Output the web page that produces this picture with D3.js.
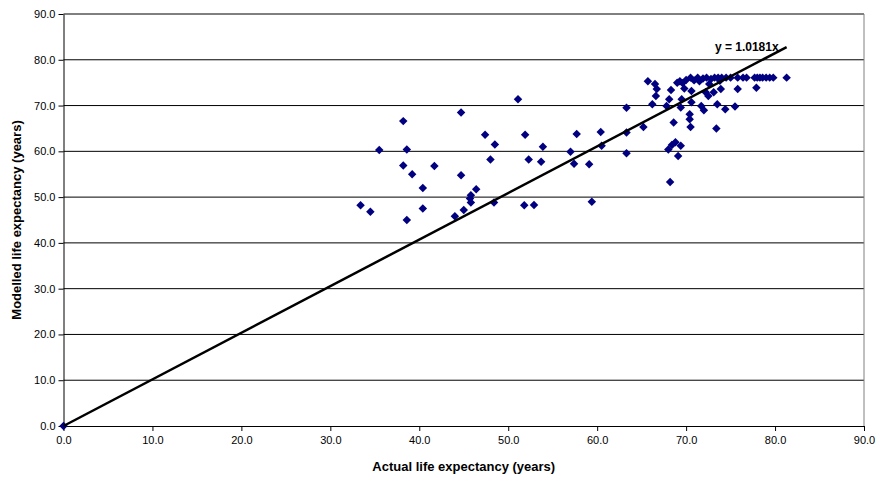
<!DOCTYPE html>
<html lang="en">
<head>
<meta charset="utf-8">
<title>Life expectancy scatter</title>
<script src="https://d3js.org/d3.v7.min.js"></script>
<style>
  body { margin: 0; background: white; font-family: 'Liberation Sans', Arial, sans-serif; }
</style>
</head>
<body>
<div class="chart"></div>
<script>
// actual vs modelled life expectancy (years)
const actual = [0, 33.4, 34.5, 35.5, 38.2, 38.6, 38.2, 39.2, 41.7, 40.4, 40.4, 38.6, 44.7, 44.7, 47.4, 48.5,
  48.0, 46.4, 45.8, 45.7, 45.8, 45.0, 44.0, 48.4, 51.1, 51.9, 52.3, 53.9, 53.7, 51.8, 52.9, 57.0, 57.7, 57.4,
  59.1, 59.4, 60.4, 60.5, 63.3, 63.3, 63.3, 65.2, 65.7, 66.5, 66.7, 66.6, 66.2, 68.3, 68.1, 67.8, 68.6, 68.2,
  68.0, 68.4, 68.8, 69.4, 69.1, 69.0, 69.3, 69.6, 69.8, 70.5, 69.5, 69.4, 70.6, 70.6, 70.4, 70.4, 70.5, 71.3,
  71.5, 72.3, 71.7, 72.0, 72.2, 72.5, 72.6, 73.2, 73.6, 73.8, 73.1, 73.9, 73.5, 73.4, 74.4, 75.5, 75.8, 75.0,
  75.8, 76.4, 76.8, 77.7, 77.9, 78.3, 78.6, 79.0, 79.8, 81.3, 70.0, 70.9, 71.9, 72.8, 74.0, 74.5, 78.0, 79.4];
const modelled = [0, 48.2, 46.8, 60.3, 66.6, 60.4, 56.9, 55.0, 56.8, 52.0, 47.5, 45.0, 68.5, 54.8, 63.6, 61.5,
  58.2, 51.7, 50.4, 49.7, 48.8, 47.2, 45.8, 48.8, 71.4, 63.6, 58.2, 61.0, 57.7, 48.2, 48.3, 59.9, 63.8, 57.3,
  57.2, 49.0, 64.2, 61.2, 69.5, 64.1, 59.6, 65.3, 75.3, 74.7, 73.6, 72.1, 70.3, 73.4, 71.4, 69.9, 66.3, 53.3,
  60.4, 61.4, 62.0, 61.2, 59.0, 75.0, 75.3, 74.9, 73.7, 76.1, 71.4, 69.6, 73.2, 70.7, 68.1, 67.0, 65.3, 76.1,
  75.3, 76.1, 69.9, 69.0, 72.9, 72.1, 74.7, 76.1, 76.1, 75.4, 72.9, 73.6, 70.3, 65.0, 69.2, 69.8, 73.6, 76.1,
  76.1, 76.1, 76.1, 76.1, 73.9, 76.1, 76.1, 76.1, 76.1, 76.1, 75.6, 75.5, 75.9, 75.8, 76.1, 76.1, 76.1, 76.1];
const slope = 1.0181;
const ticks = [0, 10, 20, 30, 40, 50, 60, 70, 80, 90];

const width = 876, height = 477;
const plotLeft = 63.5, plotRight = 864, plotTop = 14, plotBottom = 426;

const x = d3.scaleLinear().domain([0, 90]).range([plotLeft, plotRight]);
const y = d3.scaleLinear().domain([0, 90]).range([plotBottom, plotTop]);

const svg = d3.select(".chart").append("svg")
  .attr("width", width).attr("height", height);

// horizontal gridlines
svg.append("g").selectAll("line")
  .data(ticks.filter(t => t > 0))
  .enter().append("line")
  .attr("x1", plotLeft).attr("x2", plotRight)
  .attr("y1", d => y(d)).attr("y2", d => y(d))
  .attr("stroke", "#000").attr("stroke-width", 1);

// right border
svg.append("line")
  .attr("x1", plotRight).attr("x2", plotRight).attr("y1", plotTop).attr("y2", plotBottom)
  .attr("stroke", "#808080");

const fmt = d3.format(".1f");

const xAxis = svg.append("g")
  .attr("transform", `translate(0,${plotBottom})`)
  .call(d3.axisBottom(x).tickValues(ticks).tickFormat(fmt).tickSize(5).tickSizeOuter(0));
const yAxis = svg.append("g")
  .attr("transform", `translate(${plotLeft},0)`)
  .call(d3.axisLeft(y).tickValues(ticks).tickFormat(fmt).tickSize(5).tickSizeOuter(0));

[xAxis, yAxis].forEach(g => {
  g.selectAll("path, line").attr("stroke", "#000");
  g.selectAll("text").attr("fill", "#000")
    .style("font-family", "'Liberation Sans', Arial, sans-serif").style("font-size", "11px");
});
xAxis.selectAll("text").attr("dy", "0.71em").attr("y", 10);
yAxis.selectAll("text").attr("x", -8);

// points
const pts = actual.map((a, i) => ({ a, m: modelled[i] }));
svg.append("g").selectAll("path")
  .data(pts)
  .enter().append("path")
  .attr("d", d3.symbol(d3.symbolSquare, 36)())
  .attr("transform", d => `translate(${x(d.a)},${y(d.m)}) rotate(45)`)
  .attr("fill", "#000080");

// trend line y = 1.0181x
const xmax = d3.max(actual);
svg.append("line")
  .attr("x1", x(0)).attr("y1", y(0))
  .attr("x2", x(xmax)).attr("y2", y(slope * xmax))
  .attr("stroke", "#000").attr("stroke-width", 2.5);

svg.append("text")
  .attr("x", x(xmax) - 8).attr("y", y(slope * xmax) + 4)
  .attr("text-anchor", "end")
  .style("font-size", "12px").style("font-weight", "bold")
  .text("y = 1.0181x");

// axis titles
svg.append("text")
  .attr("x", (plotLeft + plotRight) / 2).attr("y", 471)
  .attr("text-anchor", "middle")
  .style("font-size", "13px").style("font-weight", "bold")
  .text("Actual life expectancy (years)");

svg.append("text")
  .attr("transform", `translate(21,${(plotTop + plotBottom) / 2}) rotate(-90)`)
  .attr("text-anchor", "middle")
  .style("font-size", "13px").style("font-weight", "bold")
  .text("Modelled life expectancy (years)");
</script>
</body>
</html>
